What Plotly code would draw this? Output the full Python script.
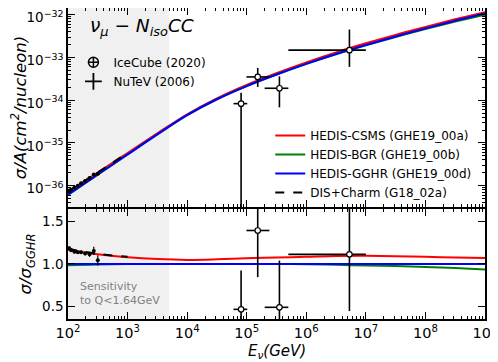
import plotly.graph_objects as go

# ---------------------------------------------------------------------------
# data
# ---------------------------------------------------------------------------
# model curves on a half-decade grid (GeV)
energy = [1e2, 3.16e2, 1e3, 3.16e3, 1e4, 3.16e4, 1e5, 3.16e5,
          1e6, 3.16e6, 1e7, 3.16e7, 1e8, 3.16e8, 1e9]
xsec_gghr = [6.17e-37, 1.82e-36, 5.37e-36, 1.58e-35, 4.47e-35, 1.05e-34, 2.14e-34, 3.98e-34,
             7.08e-34, 1.20e-33, 1.95e-33, 3.09e-33, 4.79e-33, 7.24e-33, 1.07e-32]
ratio_csms = [1.17, 1.115, 1.08, 1.058, 1.048, 1.055, 1.068, 1.077,
              1.085, 1.095, 1.097, 1.093, 1.085, 1.077, 1.07]
ratio_bgr = [0.985, 0.995, 1.0, 1.0, 1.0, 1.0, 1.0, 1.0,
             0.998, 0.99, 0.983, 0.975, 0.965, 0.952, 0.935]
ratio_dis = [1.18, 1.12, 1.085]          # G18_02a only up to 1 TeV

# NuTeV (2006)
nutev_e = [105, 113, 128, 146, 166, 194, 230, 271, 316]
nutev_xsec = [7.66e-37, 8.04e-37, 8.92e-37, 1.00e-36, 1.13e-36, 1.29e-36, 1.50e-36, 1.82e-36, 1.90e-36]
nutev_xsec_err = [2e-38, 2e-38, 2e-38, 3e-38, 3e-38, 3e-38, 4e-38, 8e-38, 1e-37]
nutev_ratio = [1.186, 1.162, 1.146, 1.138, 1.138, 1.123, 1.114, 1.155, 1.043]
nutev_ratio_err = [0.02, 0.02, 0.02, 0.02, 0.02, 0.02, 0.03, 0.05, 0.06]

# IceCube (2020)
ic_e = [8.05e4, 1.53e5, 3.54e5, 5.3e6]
ic_e_lo = [6.0e4, 9.9e4, 2.0e5, 5.0e5]
ic_e_hi = [1.02e5, 2.4e5, 5.0e5, 1.0e7]
ic_xsec = [8.3e-35, 3.5e-34, 1.9e-34, 1.48e-33]
ic_xsec_lo = [1e-38, 2.04e-34, 6.8e-35, 6.0e-34]
ic_xsec_hi = [1.5e-34, 5.7e-34, 3.6e-34, 4.5e-33]
ic_ratio = [0.464, 1.396, 0.488, 1.114]
ic_ratio_lo = [0.0, 0.845, 0.0, 0.444]
ic_ratio_hi = [0.924, 2.0, 1.04, 2.3]

SENS_EMAX = 5e3   # Q<1.64 GeV sensitivity region

# ---------------------------------------------------------------------------
FONT = "DejaVu Sans"
xsec_csms = [s * r for s, r in zip(xsec_gghr, ratio_csms)]
xsec_bgr = [s * r for s, r in zip(xsec_gghr, ratio_bgr)]
energy_dis = energy[:len(ratio_dis)]
xsec_dis = [s * r for s, r in zip(xsec_gghr, ratio_dis)]
ratio_gghr = [1.0 for _ in energy]

fig = go.Figure()

curves = [
    ("HEDIS-CSMS (GHE19_00a)", energy, xsec_csms, ratio_csms, "red", "solid"),
    ("HEDIS-BGR (GHE19_00b)", energy, xsec_bgr, ratio_bgr, "green", "solid"),
    ("HEDIS-GGHR (GHE19_00d)", energy, xsec_gghr, ratio_gghr, "blue", "solid"),
    ("DIS+Charm (G18_02a)", energy_dis, xsec_dis, ratio_dis, "black", "dash"),
]
for name, e, top, bot, col, dash in curves:
    fig.add_trace(go.Scatter(x=e, y=top, mode="lines", name=name,
                             line=dict(color=col, width=2, dash=dash, shape="spline"),
                             legend="legend2", xaxis="x", yaxis="y"))
    fig.add_trace(go.Scatter(x=e, y=bot, mode="lines", showlegend=False,
                             line=dict(color=col, width=2, dash=dash, shape="spline"),
                             xaxis="x2", yaxis="y2"))


def err(vals, lo, hi):
    return dict(type="data", symmetric=False,
                array=[h - v for v, h in zip(vals, hi)],
                arrayminus=[v - l for v, l in zip(vals, lo)],
                width=0, thickness=1.6, color="black")


# NuTeV points
for ax, y, ye in [("", nutev_xsec, nutev_xsec_err), ("2", nutev_ratio, nutev_ratio_err)]:
    fig.add_trace(go.Scatter(x=nutev_e, y=y, mode="markers", showlegend=False,
                             marker=dict(color="black", size=4),
                             error_y=dict(type="data", array=ye, width=0, thickness=1.2, color="black"),
                             xaxis="x" + ax, yaxis="y" + ax))

# IceCube points
for ax, y, ylo, yhi in [("", ic_xsec, ic_xsec_lo, ic_xsec_hi),
                        ("2", ic_ratio, ic_ratio_lo, ic_ratio_hi)]:
    fig.add_trace(go.Scatter(x=ic_e, y=y, mode="markers", showlegend=False,
                             marker=dict(color="white", size=5.5, symbol="circle",
                                         line=dict(color="black", width=1.2)),
                             error_x=err(ic_e, ic_e_lo, ic_e_hi),
                             error_y=err(y, ylo, yhi),
                             xaxis="x" + ax, yaxis="y" + ax))

# legend entries for the data
fig.add_trace(go.Scatter(x=[None], y=[None], mode="markers", name="IceCube (2020)",
                         marker=dict(symbol="circle-cross-open", size=10, color="black",
                                     line=dict(width=1.5)),
                         legend="legend", xaxis="x", yaxis="y"))
fig.add_trace(go.Scatter(x=[None], y=[None], mode="markers", name="NuTeV (2006)",
                         marker=dict(symbol="cross-thin-open", size=12, color="black",
                                     line=dict(width=1.8)),
                         legend="legend", xaxis="x", yaxis="y"))

# shaded sensitivity region
for xr, yr in [("x", "y domain"), ("x2", "y2 domain")]:
    fig.add_shape(type="rect", xref=xr, yref=yr, x0=energy[0], x1=SENS_EMAX, y0=0, y1=1,
                  fillcolor="#f0f0f0", line_width=0, layer="below")

# ticks
xmajor = [10 ** n for n in range(2, 10)]
xminor = [k * 10 ** n for n in range(2, 9) for k in range(2, 10)]
ymajor = [10.0 ** n for n in range(-36, -31)]
yminor = [k * 10.0 ** n for n in range(-37, -31) for k in range(2, 10)]

axis_common = dict(showline=True, linecolor="black", linewidth=1.5, mirror="allticks",
                   ticks="inside", ticklen=7, tickwidth=1.2, tickcolor="black",
                   showgrid=False, zeroline=False, automargin=False,
                   ticklabeloverflow="allow")

# the page puts the figure 8px in from the top-left corner, so the figure is
# 8px smaller and the margins are shifted to keep the axes where they belong
fig.update_layout(
    template="none",
    width=490, height=354,
    margin=dict(l=59.5, r=13, t=0, b=43),
    paper_bgcolor="white", plot_bgcolor="white",
    font=dict(family=FONT, color="black"),
    xaxis=dict(type="log", range=[2, 9], domain=[0, 1], anchor="y", matches="x2",
               tickvals=xmajor, showticklabels=False,
               minor=dict(tickmode="array", tickvals=xminor, ticks="inside", ticklen=3.5,
                          tickcolor="black", showgrid=False),
               **axis_common),
    yaxis=dict(type="log", range=[-36.5, -31.843], domain=[0.3601, 1], anchor="x",
               tickvals=ymajor, ticktext=["10<sup>−%d</sup>" % -n for n in range(-36, -31)],
               tickfont=dict(size=13.5), ticklabelshift=3,
               minor=dict(tickmode="array", tickvals=yminor, ticks="inside", ticklen=3.5,
                          tickcolor="black", showgrid=False),
               title=dict(text="<i>σ/A(cm<sup>2</sup>/nucleon)</i>", font=dict(size=16.5), standoff=6),
               **axis_common),
    xaxis2=dict(type="log", range=[2, 9], domain=[0, 1], anchor="y2",
                tickvals=xmajor, ticktext=["10<sup>%d</sup>" % n for n in range(2, 10)],
                tickfont=dict(size=14.5),
                minor=dict(tickmode="array", tickvals=xminor, ticks="inside", ticklen=3.5,
                           tickcolor="black", showgrid=False),
                **axis_common),
    yaxis2=dict(range=[0.35, 1.65], domain=[0, 0.3537], anchor="x2",
                tickvals=[0.5, 1.0, 1.5], ticktext=["0.5", "1.0", "1.5"],
                tickfont=dict(size=13.5),
                title=dict(text="<i>σ/σ<sub>GGHR</sub></i>", font=dict(size=16.5), standoff=6),
                **axis_common),
    legend=dict(x=0.013, y=0.872, xanchor="left", yanchor="top", bgcolor="rgba(0,0,0,0)",
                font=dict(size=12)),
    legend2=dict(x=0.485, y=0.637, xanchor="left", yanchor="top", bgcolor="rgba(0,0,0,0)",
                 font=dict(size=12)),
    annotations=[
        dict(text="<i>ν<sub>μ</sub> − N<sub>iso</sub>CC</i>", xref="paper", yref="paper",
             x=0.049, y=0.939, xanchor="left", yanchor="middle", showarrow=False,
             font=dict(size=18.5)),
        dict(text="Sensitivity<br>to Q<1.64GeV", xref="paper", yref="paper",
             x=0.025, y=0.0836, xanchor="left", yanchor="middle", align="left",
             showarrow=False, font=dict(size=11, color="#808080")),
        # x axis title, kept clear of the tick labels
        dict(text="<i>E<sub>ν</sub>(GeV)</i>", xref="paper", yref="paper",
             x=0.5, y=-0.14, xanchor="center", yanchor="bottom", showarrow=False,
             font=dict(size=15)),
    ],
)

fig.write_html("out.html")
